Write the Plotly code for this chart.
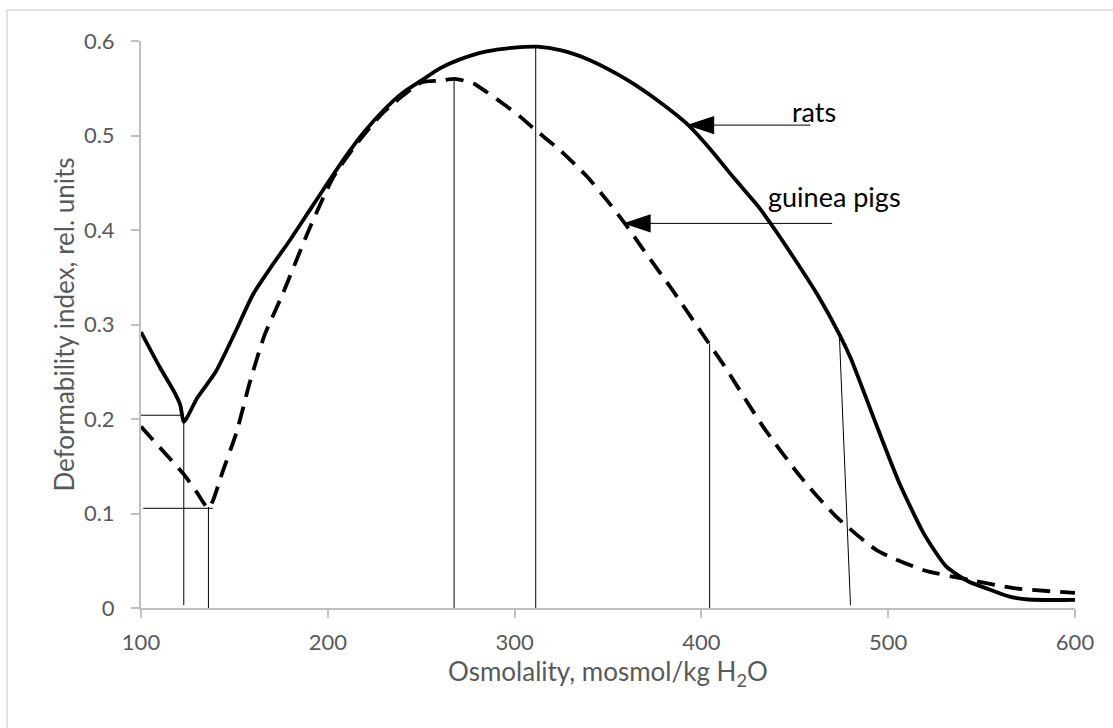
import plotly.graph_objects as go

# ---- data ----
rats_x = [100, 110, 118, 121, 123, 130, 140, 150, 160, 170, 180, 190, 200, 210, 220, 230, 240,
          250, 260, 270, 285, 300, 312, 325, 340, 355, 365, 380, 393, 405, 417, 430, 437, 449,
          462, 474, 480, 494, 506, 519, 531, 543, 555, 565, 575, 600]
rats_y = [0.292, 0.255, 0.228, 0.215, 0.197, 0.222, 0.250, 0.290, 0.332, 0.362, 0.390, 0.420,
          0.450, 0.479, 0.505, 0.527, 0.545, 0.558, 0.571, 0.580, 0.589, 0.593, 0.594, 0.590,
          0.580, 0.565, 0.553, 0.532, 0.511, 0.485, 0.456, 0.426, 0.407, 0.372, 0.332, 0.289,
          0.264, 0.192, 0.132, 0.079, 0.044, 0.028, 0.019, 0.012, 0.009, 0.0085]

gp_x = [100, 110, 122.7, 130, 136, 138.6, 144, 151, 158, 166, 176, 190.5, 203, 215, 230, 250,
        260, 268, 278, 285, 295, 303, 311, 324, 339, 350, 359, 369, 385, 404, 412, 433, 453,
        472, 494, 519, 543, 567, 600]
gp_y = [0.192, 0.170, 0.142, 0.122, 0.1055, 0.114, 0.146, 0.185, 0.237, 0.288, 0.333, 0.403,
        0.456, 0.490, 0.525, 0.556, 0.558, 0.560, 0.555, 0.546, 0.532, 0.520, 0.506, 0.485,
        0.456, 0.430, 0.407, 0.379, 0.335, 0.280, 0.257, 0.192, 0.139, 0.097, 0.061, 0.040,
        0.030, 0.021, 0.016]

# thin guide segments (start x, start y, end x, end y)
guide_x0 = [97.6, 101.2, 122.9, 136.1, 267.6, 311.3, 404.4, 473.9]
guide_y0 = [0.204, 0.1055, 0.199, 0.107, 0.560, 0.594, 0.280, 0.287]
guide_x1 = [120.9, 138.4, 122.9, 136.1, 267.6, 311.3, 404.4, 479.8]
guide_y1 = [0.204, 0.1055, 0.003, 0.0, 0.0, 0.0, 0.0, 0.003]

labels = ["rats", "guinea pigs"]
label_x = [460.1, 471.0]
label_y = [0.525, 0.435]
arrow_tip_x = [393.2, 359.2]
arrow_tip_y = [0.511, 0.407]
arrow_tail_x = [458.4, 470.0]
arrow_tail_y = [0.511, 0.407]

x_ticks = [100, 200, 300, 400, 500, 600]
y_ticks = [0, 0.1, 0.2, 0.3, 0.4, 0.5, 0.6]
y_ticklabels = ["0", "0.1", "0.2", "0.3", "0.4", "0.5", "0.6"]

FONT = "Lato, 'Open Sans', sans-serif"
GRAY_TXT = "#595959"
AXIS = "#BFBFBF"

fig = go.Figure()

gx, gy = [], []
for a, b, c, d in zip(guide_x0, guide_y0, guide_x1, guide_y1):
    gx += [a, c, None]
    gy += [b, d, None]
fig.add_trace(go.Scatter(x=gx, y=gy, mode="lines", line=dict(color="black", width=1),
                         hoverinfo="skip", showlegend=False, cliponaxis=False))

fig.add_trace(go.Scatter(x=gp_x, y=gp_y, mode="lines", name="guinea pigs",
                         line=dict(color="black", width=3.8, dash="18px,10px",
                                   shape="spline", smoothing=0.6),
                         showlegend=False))
fig.add_trace(go.Scatter(x=rats_x, y=rats_y, mode="lines", name="rats",
                         line=dict(color="black", width=3.8, shape="spline", smoothing=0.6),
                         showlegend=False))

# arrows: shaft from tail to tip, arrow-head marker at the tip
for tx, ty, ax, ay in zip(arrow_tip_x, arrow_tip_y, arrow_tail_x, arrow_tail_y):
    fig.add_trace(go.Scatter(x=[ax, tx], y=[ay, ty], mode="lines+markers",
                             line=dict(color="black", width=1),
                             marker=dict(symbol="arrow", angleref="previous", size=[0, 26],
                                         color="#000000", opacity=1,
                                         line=dict(width=1.5, color="#000000")),
                             opacity=1, hoverinfo="skip", showlegend=False))

for t, lx, ly in zip(labels, label_x, label_y):
    fig.add_annotation(x=lx, y=ly, xref="x", yref="y", text=t, showarrow=False,
                       font=dict(family=FONT, size=27, color="black"))

# outer chart border (light gray)
fig.add_shape(type="rect", xref="paper", yref="paper", x0=-0.1435, y0=-0.3, x1=1.1, y1=1.0547,
              line=dict(color="#D9D9D9", width=1.5), fillcolor="rgba(0,0,0,0)", layer="below")

fig.update_layout(
    width=1113, height=728,
    margin=dict(l=141, r=38, t=41, b=120),
    paper_bgcolor="white", plot_bgcolor="white",
    font=dict(family=FONT, size=22, color=GRAY_TXT),
    xaxis=dict(range=[100, 600], tickvals=x_ticks, showgrid=False, zeroline=False,
               showline=True, linecolor=AXIS, linewidth=2, ticks="outside", ticklen=8,
               tickcolor=AXIS, tickwidth=2, tickfont=dict(size=22, color=GRAY_TXT),
               ticklabelstandoff=6,
               title=dict(text="Osmolality, mosmol/kg H<sub>2</sub>O",
                          font=dict(size=26, color=GRAY_TXT), standoff=8)),
    yaxis=dict(range=[0, 0.6], tickvals=y_ticks, ticktext=y_ticklabels, showgrid=False,
               zeroline=False, showline=True, linecolor=AXIS, linewidth=2, ticks="outside",
               ticklen=8, tickcolor=AXIS, tickwidth=2, tickfont=dict(size=22, color=GRAY_TXT),
               ticklabelstandoff=12,
               title=dict(text="Deformability index, rel. units",
                          font=dict(size=26, color=GRAY_TXT), standoff=2)),
)

fig.write_html("out.html")
